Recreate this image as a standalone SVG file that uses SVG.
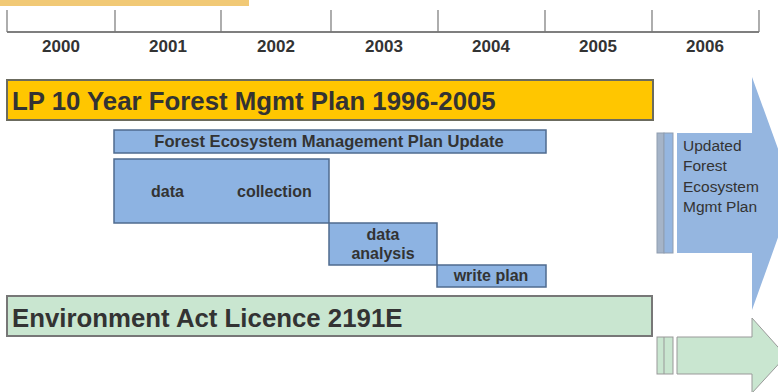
<svg xmlns="http://www.w3.org/2000/svg" width="778" height="392" viewBox="0 0 778 392">
<style>
text{font-family:"Liberation Sans",Arial,sans-serif;fill:#333;}
.yr{font-size:17px;font-weight:bold;text-anchor:middle;}
.big{font-size:25.8px;font-weight:bold;}
.sm{font-size:16px;font-weight:bold;}
.mid{text-anchor:middle;}
.blue{fill:#8db3e2;stroke:#4f6b8f;stroke-width:1.5;}
.tick{stroke:#777;stroke-width:1.2;}
.note{font-size:15.5px;}
</style>
<rect width="778" height="392" fill="#fff"/>
<rect x="0" y="0" width="249" height="6" fill="#f1c976"/>
<g id="timeline">
<line x1="7" y1="32" x2="759" y2="32" stroke="#555" stroke-width="1.6"/>
<line class="tick" x1="7" y1="10" x2="7" y2="32"/>
<line class="tick" x1="115" y1="10" x2="115" y2="32"/>
<line class="tick" x1="221" y1="10" x2="221" y2="32"/>
<line class="tick" x1="331" y1="10" x2="331" y2="32"/>
<line class="tick" x1="438" y1="10" x2="438" y2="32"/>
<line class="tick" x1="545" y1="10" x2="545" y2="32"/>
<line class="tick" x1="652" y1="10" x2="652" y2="32"/>
<line class="tick" x1="759" y1="10" x2="759" y2="32"/>
<text class="yr" x="61" y="52">2000</text>
<text class="yr" x="168" y="52">2001</text>
<text class="yr" x="276" y="52">2002</text>
<text class="yr" x="384" y="52">2003</text>
<text class="yr" x="491" y="52">2004</text>
<text class="yr" x="598" y="52">2005</text>
<text class="yr" x="705" y="52">2006</text>
</g>
<g id="lp-plan">
<rect x="7" y="80" width="646" height="40" fill="#ffc600" stroke="#6b6b5e" stroke-width="2"/>
<text class="big" x="12" y="110">LP 10 Year Forest Mgmt Plan 1996-2005</text>
</g>
<g id="femp-update">
<rect class="blue" x="114" y="130" width="432" height="23"/>
<text class="sm mid" x="329" y="147" style="font-size:16.6px">Forest Ecosystem Management Plan Update</text>
</g>
<g id="data-collection">
<rect class="blue" x="114" y="159" width="215" height="64"/>
<text class="sm" x="151" y="197">data</text>
<text class="sm" x="237" y="197">collection</text>
</g>
<g id="data-analysis">
<rect class="blue" x="329" y="223" width="108" height="42"/>
<text class="sm mid" x="383" y="240">data</text>
<text class="sm mid" x="383" y="259">analysis</text>
</g>
<g id="write-plan">
<rect class="blue" x="437" y="265" width="109" height="22"/>
<text class="sm mid" x="491" y="281">write plan</text>
</g>
<g id="env-licence">
<rect x="7" y="296" width="645" height="40" fill="#c9e6d0" stroke="#777" stroke-width="2"/>
<text class="big" x="12" y="327">Environment Act Licence 2191E</text>
</g>
<g id="updated-femp">
<rect x="657" y="133" width="7" height="120" fill="#a5b4c8" stroke="#8f9db0" stroke-width="1"/>
<rect x="664" y="133" width="9" height="120" fill="#95b6e0" stroke="#8f9db0" stroke-width="1"/>
<path d="M677 133 H752 V77 L794 193 L752 310 V253 H677 Z" fill="#95b6e0"/>
<text class="note" x="683" y="151">Updated</text>
<text class="note" x="683" y="171">Forest</text>
<text class="note" x="683" y="192">Ecosystem</text>
<text class="note" x="683" y="212">Mgmt Plan</text>
</g>
<g id="licence-continue">
<rect x="657" y="337" width="16" height="37" fill="#c9e6d0" stroke="#999" stroke-width="1"/>
<line x1="664" y1="337" x2="664" y2="374" stroke="#999" stroke-width="1"/>
<path d="M677 337 H752 V318 L786 356 L752 393 V374 H677 Z" fill="#c9e6d0" stroke="#999" stroke-width="1"/>
</g>
<g id="connectors"></g>
</svg>
